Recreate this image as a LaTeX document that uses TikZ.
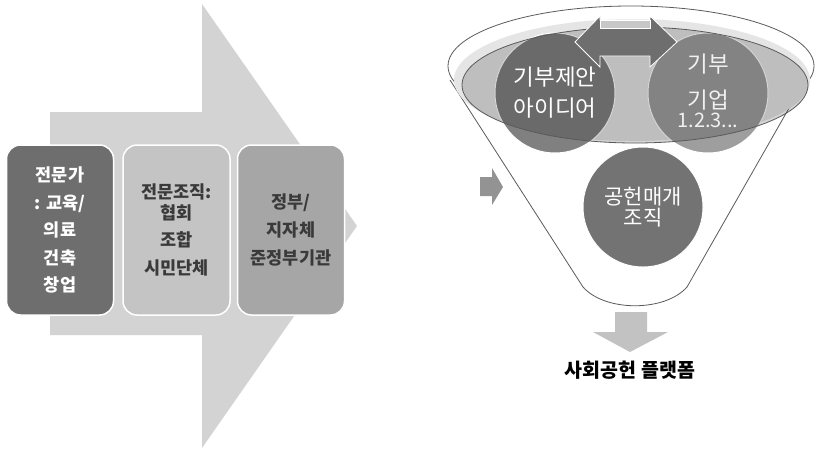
\documentclass[tikz,border=0pt]{standalone}
\usepackage{fontspec}
\newfontfamily\kr{Noto Sans CJK KR}
\usetikzlibrary{positioning}
\definecolor{bigarrow}{HTML}{D3D3D3}
\definecolor{darkfill}{HTML}{6E6E6E}
\definecolor{lightfill}{HTML}{C4C4C4}
\definecolor{midfill}{HTML}{A6A6A6}
\definecolor{boxtext}{HTML}{3A3A3A}
\definecolor{rimline}{HTML}{5A5A5A}

\begin{document}
\begin{tikzpicture}[x=1pt, y=-1pt, font=\kr, node distance=8pt,
    box/.style = {draw=white, line width=1.5pt, rounded corners=14pt, minimum width=107pt,
                  minimum height=170pt, align=center, inner sep=0pt},
    bubble/.style = {circle, draw=white, line width=1pt, minimum size=120pt, inner sep=0pt},
    bubbletext/.style = {text=white, align=center, font=\kr\fontsize{22.5}{32}\selectfont}]
    \useasboundingbox (0,0) rectangle (817,448);
    % big arrow behind the boxes
    \fill[bigarrow] (50,112) -- (202,112) -- (202,4) -- (357,226) -- (202,448) -- (202,335) -- (50,335) -- cycle;
    \node[box, fill=darkfill, text=white, font=\kr\bfseries\fontsize{17.5}{27.5}\selectfont] (expert) at (60,230)
        {전문가\\: 교육/\\의료\\건축\\창업};
    \node[box, fill=lightfill, text=boxtext, font=\kr\bfseries\fontsize{17.5}{27.5}\selectfont] (org) [right=8pt of expert]
        {전문조직:\\[-7pt]협회\\조합\\시민단체};
    \node[box, fill=midfill, text=boxtext, font=\kr\bfseries\fontsize{17.5}{28}\selectfont] (gov) [right=6pt of org]
        {정부/\\지자체\\준정부기관};
    % small arrow into the funnel
    \fill[gray!85] (480,177) -- (492,177) -- (492,168) -- (503,187) -- (492,205) -- (492,196) -- (480,196) -- cycle;
    % funnel
    \draw[rimline, fill=white, line width=0.8pt] (450,80) -- (583,287) .. controls (605,312) and (665,312) .. (687,287) -- (813,66);
    \draw[rimline, fill=white, line width=0.8pt] (631,66) ellipse [x radius=183, y radius=60];
    \fill[black!10] (632,80) ellipse [x radius=178, y radius=61];
    \node[bubble, fill=black!50] (idea) at (555,93) {};
    \node[bubble, fill=black!38] (firm) at (708,93) {};
    \node[bubble, fill=black!55] (broker) at (643,207) {};
    \draw[rimline, fill=black, fill opacity=0.17, line width=0.8pt] (635,85) ellipse [x radius=173, y radius=58];
    % double arrow between the top circles
    \draw[white, fill=darkfill, line width=0.8pt] (575,42) -- (600,16) -- (600,20) -- (650,20) -- (650,16) -- (677,42)
        -- (650,67) -- (650,56) -- (600,56) -- (600,67) -- cycle;
    \draw[white, fill=black!22, line width=0.8pt] (600,20) rectangle (650,28);
    \node[bubbletext] at (idea) {기부제안\\[-1pt]아이디어};
    \node[bubbletext, text=white!94!black] at ([yshift=2pt]firm) {기부\\[4pt]기업\\[-13pt]{\fontsize{20}{20}\selectfont 1.2.3...}};
    \node[bubbletext, font=\kr\fontsize{21}{21}\selectfont] at (broker) {공헌매개\\조직};
    % down arrow and result
    \fill[black!24] (615,312) -- (647,312) -- (647,332) -- (668,332) -- (630,352) -- (593,332) -- (615,332) -- cycle;
    \coordinate (tip) at (630,352);
    \node[font=\kr\bfseries\fontsize{19.5}{20}\selectfont] (platform) [below=5pt of tip] {사회공헌 플랫폼};
\end{tikzpicture}
\end{document}
